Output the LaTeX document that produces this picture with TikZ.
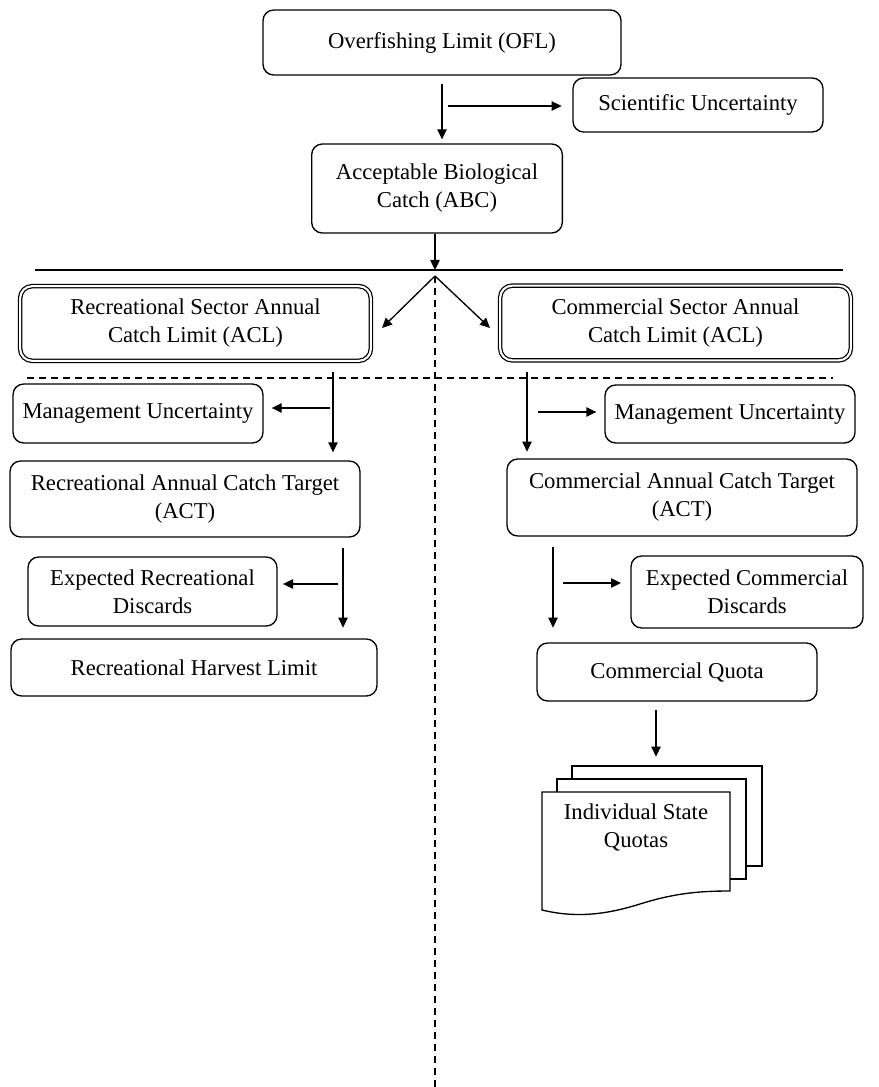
\documentclass[tikz,border=0pt]{standalone}
\usepackage{fontspec}
\setmainfont{Liberation Serif}
\usetikzlibrary{arrows.meta}

\begin{document}
\begin{tikzpicture}[x=0.75pt,y=-0.75pt,
    every node/.style={font=\fontsize{17}{21}\selectfont, align=center, inner sep=0pt},
    blk/.style={draw, line width=1pt, rounded corners=8pt},
    acl/.style={draw, double, double distance=1.6pt, line width=0.9pt, rounded corners=9pt,
                minimum width=263pt, minimum height=56pt},
    arr/.style={line width=1pt, -{Triangle[width=7pt,length=7.5pt]}},
    sep/.style={line width=1pt, dash pattern=on 5.5pt off 3.5pt}]
    \useasboundingbox (0,0) rectangle (878,1087);

    % top of the tree
    \node[blk, minimum width=268.5pt, minimum height=48.75pt] (ofl) at (442,42.5) {Overfishing Limit (OFL)};
    \node[blk, minimum width=187.5pt, minimum height=40.5pt] (sci) at (698,105) {Scientific Uncertainty};
    \node[blk, minimum width=188pt, minimum height=66.75pt] (abc) at (437,188.5) {Acceptable Biological\\Catch (ABC)};

    \coordinate (s1) at (448,106);
    \draw[arr, shorten <=6pt, shorten >=3pt] (ofl.south) -- (ofl.south |- abc.north);
    \draw[arr, shorten >=8pt] (s1) -- (s1 -| sci.west);

    \coordinate (split) at (435,270);
    \coordinate (fork) at (435,276);
    \coordinate (hl) at (35,270);
    \coordinate (hr) at (843,270);
    \draw[line width=1pt] (hl) -- (hr);
    \draw[arr] (abc.south -| split) -- (split);

    % sector limits
    \node[acl] (racl) at (195.5,323.5) {Recreational Sector Annual\\Catch Limit (ACL)};
    \node[acl] (cacl) at (675.5,323) {Commercial Sector Annual\\Catch Limit (ACL)};
    \coordinate (rtip) at (382,328);
    \coordinate (ctip) at (490,328);
    \draw[arr] (fork) -- (rtip);
    \draw[arr] (fork) -- (ctip);

    \coordinate (dl) at (27,378);
    \coordinate (dr) at (833,378);
    \coordinate (vb) at (435,1087);
    \draw[sep] (dl) -- (dr);
    \draw[sep] (fork) -- (vb);

    % recreational side
    \node[blk, minimum width=187.5pt, minimum height=44.25pt] (rmu) at (138,413.5) {Management Uncertainty};
    \node[blk, minimum width=262.5pt, minimum height=57pt] (ract) at (185,499) {Recreational Annual Catch Target\\(ACT)};
    \node[blk, minimum width=186.75pt, minimum height=51.75pt] (rdis) at (152.5,591.5) {Expected Recreational\\Discards};
    \node[blk, minimum width=274.5pt, minimum height=42.75pt] (rhl) at (194,667.5) {Recreational Harvest Limit};

    \coordinate (ra1) at (333,372);
    \coordinate (ra2) at (330,408);
    \coordinate (ra3) at (343,548);
    \coordinate (ra4) at (338,584);
    \draw[arr, shorten >=6pt] (ra1) -- (ra1 |- ract.north);
    \draw[arr, shorten >=6pt] (ra2) -- (ra2 -| rmu.east);
    \draw[arr, shorten >=8pt] (ra3) -- (ra3 |- rhl.north);
    \draw[arr, shorten >=4pt] (ra4) -- (ra4 -| rdis.east);

    % commercial side
    \node[blk, minimum width=187.5pt, minimum height=43.5pt] (cmu) at (730,414) {Management Uncertainty};
    \node[blk, minimum width=262.5pt, minimum height=57.75pt] (cact) at (682,497.5) {Commercial Annual Catch Target\\(ACT)};
    \node[blk, minimum width=174pt, minimum height=54pt] (cdis) at (747,592) {Expected Commercial\\Discards};
    \node[blk, minimum width=210pt, minimum height=43.5pt] (cq) at (677,672) {Commercial Quota};

    \coordinate (ca1) at (527,372);
    \coordinate (ca2) at (538,412);
    \coordinate (ca3) at (553,547);
    \coordinate (ca4) at (563,583);
    \draw[arr, shorten >=5pt] (ca1) -- (ca1 |- cact.north);
    \draw[arr, shorten >=6pt] (ca2) -- (ca2 -| cmu.west);
    \draw[arr, shorten >=11pt] (ca3) -- (ca3 |- cq.north);
    \draw[arr, shorten >=7pt] (ca4) -- (ca4 -| cdis.west);

    % stack of state quotas
    \draw[line width=1pt, fill=white] (572,766) rectangle (762,866);
    \draw[line width=1pt, fill=white] (557,779) rectangle (746,879);
    \draw[line width=1pt, fill=white] (542,792) -- (730,792) -- (730,891)
        .. controls (700,891) and (675,893) .. (640,904)
        .. controls (605,915) and (575,918) .. (542,910) -- cycle;
    \node (isq) at (636,827) {Individual State\\Quotas};

    \coordinate (ca5) at (656,710);
    \coordinate (docs) at (656,766);
    \draw[arr, shorten >=7pt] (ca5) -- (docs);
\end{tikzpicture}
\end{document}
